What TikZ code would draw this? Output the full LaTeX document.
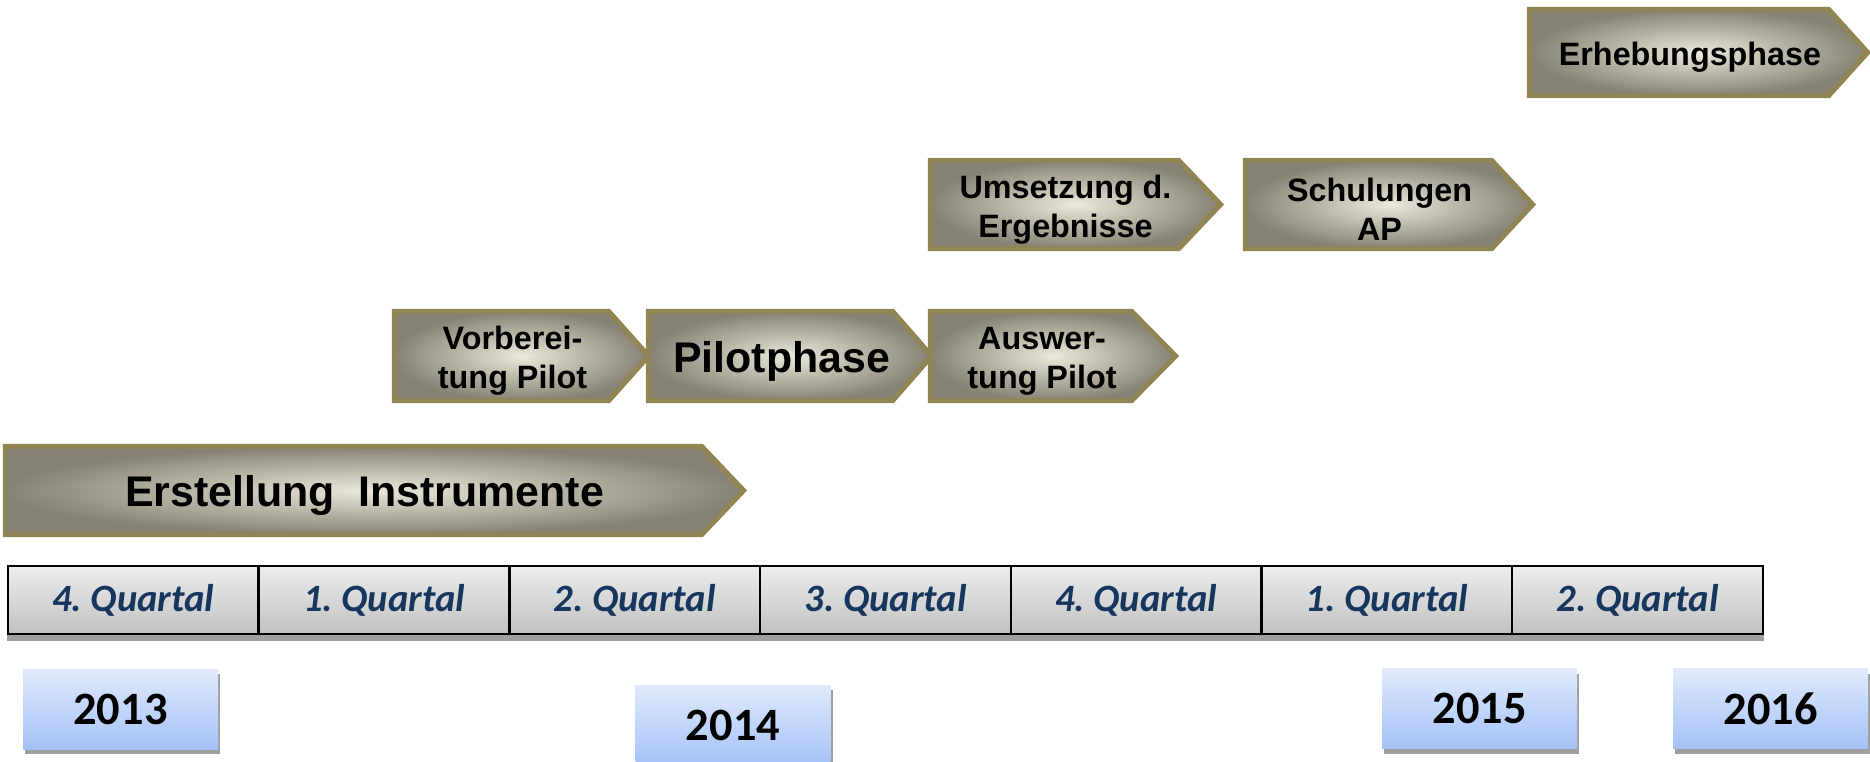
\documentclass[tikz,border=0pt]{standalone}
\usepackage{fontspec}
\setmainfont{Liberation Sans}
\newfontfamily\calfont{Carlito}
\usetikzlibrary{positioning,calc,backgrounds,shadows}
\definecolor{phaseedge}{RGB}{144,134,83}
\definecolor{phaselight}{RGB}{236,233,220}
\definecolor{phasedark}{RGB}{134,131,116}
\definecolor{quartalblue}{RGB}{23,54,93}
\definecolor{celltop}{RGB}{236,236,236}
\definecolor{cellbottom}{RGB}{194,194,194}
\definecolor{yeartop}{RGB}{224,234,252}
\definecolor{yearbottom}{RGB}{164,194,247}
\tikzset{
  phase/.style={rectangle,align=center,inner sep=0pt,minimum height=0.87cm,font=\bfseries\fontsize{9.2}{11.2}\selectfont},
  bigphase/.style={phase,font=\bfseries\fontsize{12.2}{14}\selectfont},
  phaseshape/.style={draw=phaseedge,line width=1.4pt,inner color=phaselight,outer color=phasedark},
  quartal/.style={rectangle,draw=black,line width=0.7pt,minimum width=2.507cm,minimum height=0.68cm,top color=celltop,bottom color=cellbottom,text=quartalblue,font=\calfont\bfseries\itshape\fontsize{11}{13}\selectfont},
  year/.style={rectangle,minimum width=1.95cm,minimum height=0.8cm,top color=yeartop,bottom color=yearbottom,font=\calfont\bfseries\fontsize{13.2}{15}\selectfont,general shadow={fill=gray!75,shadow xshift=0.02cm,shadow yshift=-0.05cm}}
}
\begin{document}
\begin{tikzpicture}
  \useasboundingbox (0,0) rectangle (18.70,-7.62);
  % phases (text sits a little right of and below the box centre)
  \node[bigphase,minimum width=6.95cm] (erstellung) at (3.645,-4.955) {Erstellung\ \ Instrumente};
  \node[phase,minimum width=2.13cm,minimum height=0.88cm] (vorbereitung) at (5.125,-3.61) {Vorberei-\\tung Pilot};
  \node[bigphase,minimum width=2.43cm,minimum height=0.88cm] (pilot) at (7.815,-3.61) {Pilotphase};
  \node[phase,minimum width=2.00cm,minimum height=0.88cm] (auswertung) at (10.42,-3.61) {Auswer-\\tung Pilot};
  \node[phase,minimum width=2.47cm] (umsetzung) at (10.655,-2.095) {Umsetzung d.\\Ergebnisse};
  \node[phase,minimum width=2.45cm] (schulungen) at (13.795,-2.095) {Schulungen\\AP};
  \node[phase,minimum width=2.98cm,minimum height=0.85cm] (erhebung) at (16.90,-0.575) {Erhebungsphase};
  \begin{scope}[on background layer]
    \foreach \n/\tip in {erstellung/0.42,vorbereitung/0.40,pilot/0.39,auswertung/0.44,umsetzung/0.42,schulungen/0.41,erhebung/0.39}
      \draw[phaseshape] ($(\n.north west)+(-0.11,0.05)$) -- ($(\n.north east)+(-0.11,0.05)$)
        -- ($(\n.east)+(\tip-0.11,0.05)$) -- ($(\n.south east)+(-0.11,0.05)$)
        -- ($(\n.south west)+(-0.11,0.05)$) -- cycle;
  \end{scope}
  % quarters
  \foreach \q [count=\i] in {4,1,2,3,4,1,2}
    \node[quartal] (q\i) at ({0.08+2.507*(\i-0.5)},-6.00) {\q.~Quartal};
  \begin{scope}[on background layer]
    \fill[gray!75] ($(q1.south west)+(0,0.02)$) rectangle ($(q7.south east)+(0,-0.06)$);
  \end{scope}
  % years
  \node[year] (y2013) at (1.205,-7.09) {2013};
  \node[year] (y2014) at (7.33,-7.25) {2014};
  \node[year] (y2015) at (14.795,-7.085) {2015};
  \node[year] (y2016) at (17.705,-7.085) {2016};
\end{tikzpicture}
\end{document}
